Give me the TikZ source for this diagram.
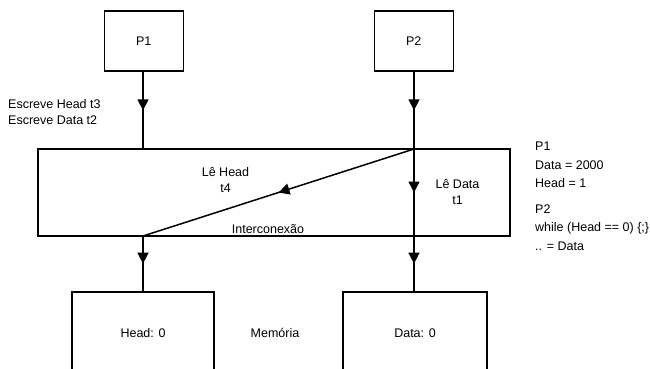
\documentclass[tikz,border=0pt]{standalone}
\usepackage{fontspec}
\setmainfont{Liberation Sans}
\usetikzlibrary{arrows.meta,decorations.markings}
\begin{document}
\begin{tikzpicture}[x=1pt,y=-1pt,
  every node/.style={font=\fontsize{12.5}{16}\selectfont, inner sep=0pt},
  box/.style={draw, line width=1.4pt, minimum width=#1},
  link/.style={line width=1.5pt,
    postaction={decorate, decoration={markings,
      mark=at position 0.5 with {\arrow{Triangle[width=11pt,length=11pt]}}}}},
  note/.style={anchor=west, align=left}]
  \useasboundingbox (0,0) rectangle (650,369);
  \clip (0,0) rectangle (650,369);

  % processors
  \node[box=79pt, minimum height=60pt] (p1) at (143.8,41) {P1};
  \node[box=79pt, minimum height=60pt] (p2) at (413.8,41) {P2};

  % interconnect
  \node[box=472pt, minimum height=87pt] (ic) at (274,192.5) {};
  \node (icl) at (268,229) {Interconexão};

  % memory modules
  \node[box=142pt, minimum height=82pt] (head) at (143,333) {Head: 0};
  \node[box=144pt, minimum height=82pt] (data) at (415,333) {Data: 0};
  \node (mem) at (275,333) {Memória};

  % junction points on the interconnect border
  \coordinate (jl) at (143,149);
  \coordinate (jr) at (414,149);
  \coordinate (bl) at (143,236);
  \coordinate (br) at (414,236);

  % transfers
  \draw[link] (p1.south -| jl) -- (jl);
  \draw[link] (p2.south -| jr) -- (jr);
  \draw[link] (jr) -- (br);
  \draw[link] (jr) -- (bl);
  \draw[link] (br) -- (data.north -| br);
  \draw[link] (bl) -- (head.north -| bl);

  % labels
  \node[note] (esc) at (8,112) {Escreve Head t3\\Escreve Data t2};
  \node[align=center, font=\fontsize{12.5}{16.5}\selectfont] (lh) at (225.5,180) {Lê Head\\t4};
  \node[align=center, font=\fontsize{12.5}{16.5}\selectfont] (ld) at (457.5,192) {Lê Data\\t1};
  \node[note, font=\fontsize{12.5}{18.5}\selectfont] (c1) at (535,165) {P1\\Data = 2000\\Head = 1};
  \node[note, font=\fontsize{12.5}{18.5}\selectfont] (c2) at (535,227.5) {P2\\while (Head == 0) \{;\}\\.. = Data};
\end{tikzpicture}
\end{document}
